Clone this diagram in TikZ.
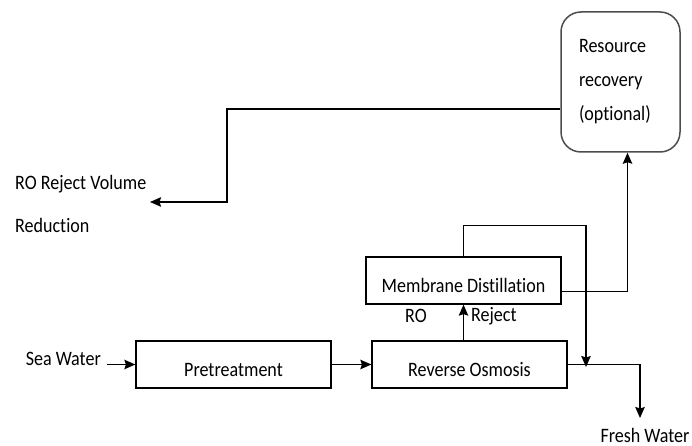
\documentclass[tikz,border=0pt]{standalone}
\usepackage{fontspec}
\setmainfont{Carlito}[FakeStretch=0.88, Ligatures={NoCommon}]
\usetikzlibrary{arrows.meta,positioning,calc}

\begin{document}
\begin{tikzpicture}[x=1pt, y=-1pt, >={Stealth[length=11pt,width=9.5pt,inset=1.5pt]},
  every node/.style={font=\fontsize{20.5}{24}\selectfont, inner sep=2pt},
  flow/.style={line width=1.3pt},
  unitbox/.style={draw, line width=1.3pt, minimum width=195pt, minimum height=47pt, text height=23pt, text depth=0pt}]
  \useasboundingbox (0,0) rectangle (692,446);

  % Process units
  \node[unitbox] (pre) at (233.5,364.5) {Pretreatment};
  \node[unitbox] (ro) at (469.5,364.5) {Reverse Osmosis};
  \node[unitbox] (md) at (463.5,280.5) {Membrane Distillation};
  \node[draw=black!70, line width=1.5pt, rounded corners=20pt, minimum width=119pt, minimum height=140pt,
    text width=83pt, inner xsep=18pt, align=left, font=\fontsize{20.5}{34}\selectfont] (rr) at (620.5,82) {Resource\\recovery\\(optional)};

  % Streams in and out
  \node[anchor=east, inner xsep=6pt] (sea) at (107,359) {Sea Water};
  \node (fw) at (645,435) {Fresh Water};
  \node[anchor=west, align=left, font=\fontsize{20.5}{43}\selectfont] (rov) at (13,203.5) {RO Reject Volume\\Reduction};
  \node (rolab) at (416,316) {RO};
  \node[anchor=west] (rejlab) at (469,316) {Reject};

  % Junction and free ends
  \coordinate (tee) at (586,367);
  \coordinate (fwend) at (640,418);
  \coordinate (rejend) at (150,202);

  % Connectors
  \draw[->, flow] (sea.east |- pre.west) -- (pre.west);
  \draw[->, flow] (pre) -- (ro);
  \draw[->, flow] (ro.north -| md.south) -- (md.south);
  \draw[->, flow] (ro.east) -| (fwend);
  \draw[->, flow] (md.north) -- ++(0,-31) -| (tee);
  \draw[->, flow] ([yshift=-11pt]md.east) -| ([xshift=7pt]rr.south);
  \draw[->, flow] ([yshift=-27pt]rr.west) -| ($(rejend)+(77,0)$) -- (rejend);
\end{tikzpicture}
\end{document}
